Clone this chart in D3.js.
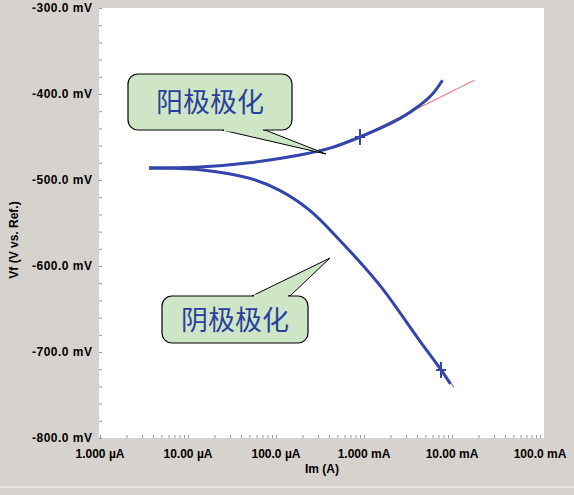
<!DOCTYPE html><html><head><meta charset="utf-8"><script src="https://cdn.jsdelivr.net/npm/d3@7"></script>
<style>body{margin:0;background:#d6d3ce}</style></head><body><script>
const anodicI=[3.6e-6,1.37e-5,5e-5,1.87e-4,4.1e-4,9e-4,2.6e-3,4.2e-3,6e-3,7.8e-3];
const anodicV=[-486,-485,-480,-471,-463,-450,-428,-414,-400,-384];
const tafelAI=[9e-4,18e-3];const tafelAV=[-450,-384];
const cathodicI=[3.6e-6,1.37e-5,5e-5,1.1e-4,2.4e-4,5.3e-4,1.5e-3,4.3e-3,7.3e-3,9.6e-3];
const cathodicV=[-486,-488,-498,-512,-535,-570,-622,-687,-719,-737];
const tafelCI=[4.3e-3,1.05e-2];const tafelCV=[-687,-741];
const xTicks=[1e-6,1e-5,1e-4,1e-3,1e-2,1e-1];
const xLabels=["1.000 µA","10.00 µA","100.0 µA","1.000 mA","10.00 mA","100.0 mA"];
const yTicks=[-300,-400,-500,-600,-700,-800];
const yLabels=["-300.0 mV","-400.0 mV","-500.0 mV","-600.0 mV","-700.0 mV","-800.0 mV"];
const W=574,H=495;
const svg=d3.select("body").append("svg").attr("width",W).attr("height",H);
svg.append("rect").attr("width",W).attr("height",H).attr("fill","#d6d3ce");
svg.append("line").attr("x1",0).attr("x2",W).attr("y1",487).attr("y2",487).attr("stroke","#f4f4f4");
const x=d3.scaleLog().domain([1e-6,1e-1]).range([100,540]);
const y=d3.scaleLinear().domain([-800,-300]).range([438,8]);
svg.append("rect").attr("x",99).attr("y",8).attr("width",445).attr("height",430).attr("fill","#fff");
const font="Liberation Sans, Arial, sans-serif";
const ya=svg.append("g").attr("transform","translate(99,0)").call(d3.axisLeft(y).tickValues(d3.range(-800,-299,20)).tickSize(3).tickFormat(""));
ya.select(".domain").remove();ya.selectAll("line").attr("stroke","#999").attr("x2",3);
yTicks.forEach((v,i)=>svg.append("text").attr("x",92).attr("y",y(v)+4).attr("text-anchor","end").attr("font-family",font).attr("font-weight","bold").attr("font-size",12).attr("textLength",60).text(yLabels[i]));
const minors=[];xTicks.forEach(t=>{for(let k=1;k<10;k++){if(t*k<=1e-1)minors.push(t*k);}});
const xa=svg.append("g").attr("transform","translate(0,438)").call(d3.axisTop(x).tickValues(minors).tickSize(3).tickFormat(""));
xa.select(".domain").remove();xa.selectAll("line").attr("stroke","#999");
xTicks.forEach((v,i)=>svg.append("text").attr("x",x(v)).attr("y",458).attr("text-anchor","middle").attr("font-family",font).attr("font-weight","bold").attr("font-size",12).text(xLabels[i]));
svg.append("text").attr("x",322).attr("y",473).attr("text-anchor","middle").attr("font-family",font).attr("font-weight","bold").attr("font-size",12).text("Im (A)");
svg.append("text").attr("transform","translate(18,240) rotate(-90)").attr("text-anchor","middle").attr("font-family",font).attr("font-weight","bold").attr("font-size",12).text("Vf (V vs. Ref.)");
const line=d3.line().x(d=>x(d[0])).y(d=>y(d[1])).curve(d3.curveCatmullRom.alpha(0.5));
const zip=(a,b)=>a.map((v,i)=>[v,b[i]]);
svg.append("path").attr("d",line(zip(tafelAI,tafelAV))).attr("stroke","#e88080").attr("stroke-width",1.2).attr("fill","none");
svg.append("path").attr("d",line(zip(tafelCI,tafelCV))).attr("stroke","#e88080").attr("stroke-width",1.5).attr("fill","none");
svg.append("path").attr("d",line(zip(anodicI,anodicV))).attr("stroke","#3344aa").attr("stroke-width",3).attr("fill","none");
svg.append("path").attr("d",line(zip(cathodicI,cathodicV))).attr("stroke","#3344aa").attr("stroke-width",3).attr("fill","none");
function plus(I,V){const cx=x(I),cy=y(V);svg.append("path").attr("d",`M${cx-5},${cy}H${cx+5}M${cx},${cy-8}V${cy+8}`).attr("stroke","#3344aa").attr("stroke-width",2);}
plus(9e-4,-450);plus(7.5e-3,-721);
function callout(bx,by,bw,bh,tail,label){
  svg.append("path").attr("d",`M${tail[0]},${tail[1]}L${tail[2]},${tail[3]}L${tail[4]},${tail[5]}Z`).attr("fill","#cfe6c6").attr("stroke","#000").attr("stroke-width",1);
  svg.append("rect").attr("x",bx).attr("y",by).attr("width",bw).attr("height",bh).attr("rx",10).attr("fill","#cfe6c6").attr("stroke","#000").attr("stroke-width",1.2);
  svg.append("path").attr("d",`M${tail[0]+2},${tail[1]}L${tail[4]-2},${tail[5]}`).attr("stroke","#cfe6c6").attr("stroke-width",3);
  svg.append("text").attr("x",bx+bw/2).attr("y",by+bh/2+10).attr("text-anchor","middle").attr("font-family","Noto Sans CJK SC").attr("font-size",27).attr("fill","#2b3f9e").text(label);
}
callout(128,74,164,56,[222,130,326,154,265,130],"阳极极化");
callout(162,296,146,47,[252,296,330,258,290,296],"阴极极化");
</script></body></html>
